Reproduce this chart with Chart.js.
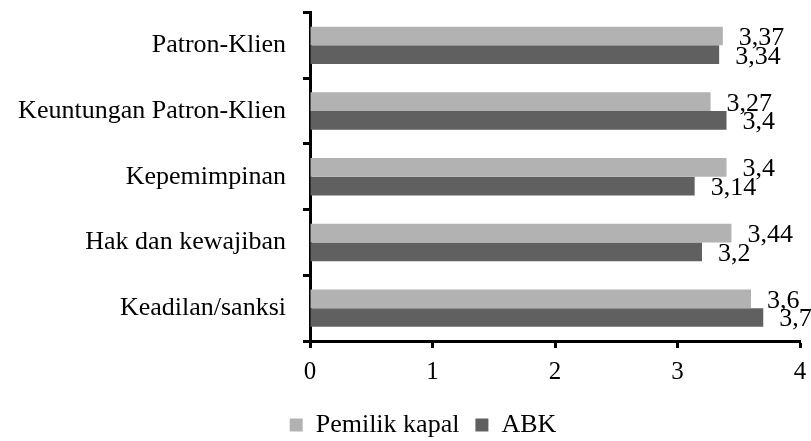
<!DOCTYPE html>
<html>
<head>
<meta charset="utf-8">
<script src="https://cdn.jsdelivr.net/npm/chart.js@4/dist/chart.umd.min.js"></script>
<style>
  html, body { margin: 0; padding: 0; background: #fff; }
  #wrap { width: 811px; height: 441px; }
</style>
</head>
<body>
<div id="wrap"><canvas id="c" width="811" height="441"></canvas></div>
<script>
// Aspects of the patron–client relationship, mean scores per respondent group
const categories = ['Patron-Klien', 'Keuntungan Patron-Klien', 'Kepemimpinan', 'Hak dan kewajiban', 'Keadilan/sanksi'];
const seriesNames = ['Pemilik kapal', 'ABK'];
const pemilikKapal = [3.37, 3.27, 3.4, 3.44, 3.6];
const abk = [3.34, 3.4, 3.14, 3.2, 3.7];
const xTicks = [0, 1, 2, 3, 4];

const FONT = 'Liberation Serif, Times New Roman, serif';
const SIZE = 26;
const TICK_SIZE = 25;

// Value labels written just past the end of each bar, decimal comma
const valueLabels = {
  id: 'valueLabels',
  afterDatasetsDraw(chart) {
    const ctx = chart.ctx;
    ctx.save();
    ctx.font = SIZE + 'px ' + FONT;
    ctx.fillStyle = '#000';
    ctx.textAlign = 'left';
    ctx.textBaseline = 'middle';
    chart.data.datasets.forEach((ds, i) => {
      chart.getDatasetMeta(i).data.forEach((bar, j) => {
        const txt = String(ds.data[j]).replace('.', ',');
        ctx.fillText(txt, bar.x + 16, bar.y + 2);
      });
    });
    ctx.restore();
  }
};

// The legend row sits a little right of the canvas centre, under the plot
const legendOffset = {
  id: 'legendOffset',
  afterLayout(chart) {
    if (chart.legend) {
      chart.legend.left += 23;
      chart.legend.right += 23;
    }
  }
};

new Chart(document.getElementById('c'), {
  type: 'bar',
  data: {
    labels: categories,
    datasets: [
      { label: seriesNames[0], data: pemilikKapal, backgroundColor: '#b2b2b2' },
      { label: seriesNames[1], data: abk, backgroundColor: '#606060' }
    ]
  },
  options: {
    indexAxis: 'y',
    responsive: false,
    animation: false,
    devicePixelRatio: 1,
    datasets: { bar: { barPercentage: 1, categoryPercentage: 0.57 } },
    layout: { padding: { top: 12.5, right: 11, bottom: -7, left: 0 } },
    scales: {
      x: {
        min: 0, max: 4,
        afterBuildTicks(scale) { scale.ticks = xTicks.map(v => ({ value: v })); },
        afterFit(scale) {
          scale.height = 55;
          scale.paddingLeft = 0;
          scale.paddingRight = 0;
        },
        border: { color: '#000', width: 3 },
        grid: { drawOnChartArea: false, tickLength: 7, tickWidth: 3, tickColor: '#000' },
        ticks: { color: '#000', padding: 9, font: { family: FONT, size: TICK_SIZE } }
      },
      y: {
        afterFit(scale) {
          scale.width = 310;
          scale.paddingTop = 0;
          scale.paddingBottom = 0;
        },
        border: { color: '#000', width: 3 },
        grid: { offset: true, drawOnChartArea: false, tickLength: 7, tickWidth: 3, tickColor: '#000' },
        ticks: { color: '#000', padding: 17, font: { family: FONT, size: SIZE } }
      }
    },
    plugins: {
      legend: {
        position: 'bottom',
        onClick: null,
        labels: {
          boxWidth: 13, boxHeight: 13, padding: 16,
          color: '#000',
          font: { family: FONT, size: SIZE }
        }
      },
      tooltip: { enabled: false }
    }
  },
  plugins: [valueLabels, legendOffset]
});
</script>
</body>
</html>
